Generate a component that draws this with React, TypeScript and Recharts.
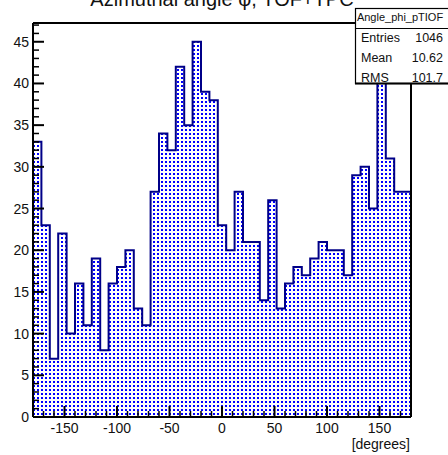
import React from 'react';
import { AreaChart, Area, XAxis, YAxis, ReferenceLine } from 'recharts';

// histogram binning: 45 bins of 8 degrees from -180 to 180
const binLow = -180;
const binWidth = 8;
const counts = [
  33, 23, 7, 22, 10, 16, 11, 19, 8, 16,
  18, 20, 13, 11, 27, 34, 32, 42, 35, 45,
  39, 38, 23, 20, 27, 21, 21, 14, 26, 13,
  16, 18, 17, 19, 21, 20, 20, 17, 29, 30,
  25, 45, 31, 27, 27,
];

const xMajorTicks = [-150, -100, -50, 0, 50, 100, 150];
const yMajorTicks = [0, 5, 10, 15, 20, 25, 30, 35, 40, 45];

const statsName = 'Angle_phi_pTIOF';
const statsRows = [
  { label: 'Entries', value: '1046' },
  { label: 'Mean', value: '10.62' },
  { label: 'RMS', value: '101.7' },
];

const yMax = Math.max(...counts) * 1.05;

// stepAfter needs one extra point at the upper edge
const data = [
  ...counts.map((c, i) => ({ x: binLow + i * binWidth, y: c })),
  { x: binLow + counts.length * binWidth, y: counts[counts.length - 1] },
];

const xTicks: number[] = [];
for (let v = -170; v <= 170; v += 10) xTicks.push(v);
const yTicks: number[] = [];
for (let v = 0; v <= 47; v++) yTicks.push(v);

const FONT = '"Liberation Sans", Arial, Helvetica, sans-serif';

const YTick = (props: any) => {
  const { x, y, payload } = props;
  const major = yMajorTicks.includes(payload.value);
  return (
    <g>
      <line x1={x} x2={x + (major ? 11 : 6)} y1={y} y2={y} stroke="#000" strokeWidth={major ? 2 : 1.5} />
      {major && (
        <text x={x - 4} y={y + 5} textAnchor="end" fontSize={14} fontFamily={FONT} fill="#111">
          {payload.value}
        </text>
      )}
    </g>
  );
};

const XTick = (props: any) => {
  const { x, y, payload } = props;
  const major = xMajorTicks.includes(payload.value);
  return (
    <g>
      <line x1={x} x2={x} y1={y} y2={y - (major ? 11 : 6)} stroke="#000" strokeWidth={major ? 2 : 1.5} />
      {major && (
        <text x={x} y={y + 16} textAnchor="middle" fontSize={14} fontFamily={FONT} fill="#111">
          {payload.value}
        </text>
      )}
    </g>
  );
};

export default function App() {
  return (
    <div style={{ position: 'absolute', left: 0, top: 0, width: 448, height: 455, background: '#fff' }}>
      <svg width={0} height={0} style={{ position: 'absolute' }}>
        <defs>
          <pattern id="dots" width={4} height={4} patternUnits="userSpaceOnUse">
            <rect width={4} height={4} fill="#fff" />
            <rect x={1} y={1} width={2} height={2} fill="#0000ff" />
          </pattern>
        </defs>
      </svg>
      <AreaChart width={448} height={455} data={data} margin={{ top: 23, right: 37, bottom: 0, left: 0 }}>
        <XAxis
          dataKey="x"
          type="number"
          domain={[-180, 180]}
          ticks={xTicks}
          interval={0}
          tick={<XTick />}
          tickLine={false}
          tickSize={0}
          tickMargin={0}
          height={38}
          axisLine={{ stroke: '#000', strokeWidth: 2 }}
        />
        <YAxis
          type="number"
          domain={[0, yMax]}
          ticks={yTicks}
          interval={0}
          tick={<YTick />}
          tickLine={false}
          tickSize={0}
          tickMargin={0}
          width={33}
          axisLine={{ stroke: '#000', strokeWidth: 2 }}
        />
        <Area
          type="stepAfter"
          dataKey="y"
          baseValue={0}
          stroke="#000088"
          strokeWidth={2}
          fill="url(#dots)"
          fillOpacity={1}
          isAnimationActive={false}
          dot={false}
          activeDot={false}
        />
        <ReferenceLine y={yMax} stroke="#000" strokeWidth={2} />
        <ReferenceLine x={180} stroke="#000" strokeWidth={2} />
      </AreaChart>
      <svg width={448} height={455} style={{ position: 'absolute', left: 0, top: 0, pointerEvents: 'none' }}>
        <text x={222} y={6} textAnchor="middle" fontSize={20} fontFamily={FONT} fill="#111">
          Azimuthal angle φ, TOF+TPC
        </text>
        <text x={410} y={449} textAnchor="end" fontSize={14} fontFamily={FONT} fill="#111">
          [degrees]
        </text>
        <rect x={355.5} y={8.5} width={100} height={75} fill="#fff" stroke="#000" strokeWidth={1.2} />
        <line x1={355} x2={448} y1={83.5} y2={83.5} stroke="#000" strokeWidth={2} />
        <line x1={355} x2={448} y1={28.5} y2={28.5} stroke="#000" strokeWidth={1.2} />
        <text x={400} y={21} textAnchor="middle" fontSize={11} fontFamily={FONT} fill="#111">
          {statsName}
        </text>
        {statsRows.map((r, i) => (
          <g key={r.label}>
            <text x={361} y={41.5 + i * 20} fontSize={12.5} fontFamily={FONT} fill="#111">
              {r.label}
            </text>
            <text x={443} y={41.5 + i * 20} textAnchor="end" fontSize={12.5} fontFamily={FONT} fill="#111">
              {r.value}
            </text>
          </g>
        ))}
      </svg>
    </div>
  );
}
